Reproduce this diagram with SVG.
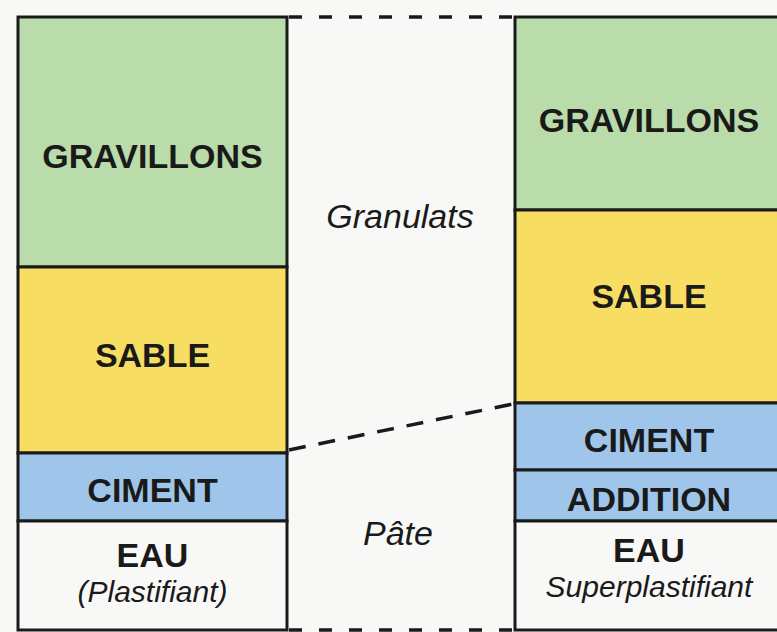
<svg xmlns="http://www.w3.org/2000/svg" width="777" height="632" viewBox="0 0 777 632">
<style>
.frame{stroke:#1a1a1a;stroke-width:3;}
.green{fill:#b9dcaa}.yellow{fill:#f8dd63}.blue{fill:#9fc6ea}.white{fill:#f8f8f6}
.b{font-family:"Liberation Sans",Arial,sans-serif;font-weight:bold;font-size:34px;fill:#1a1a1a;text-anchor:middle}
.i{font-family:"Liberation Sans",Arial,sans-serif;font-style:italic;font-size:30px;fill:#1a1a1a;text-anchor:middle}
.im{font-family:"Liberation Sans",Arial,sans-serif;font-style:italic;font-size:34px;fill:#1a1a1a;text-anchor:middle}
.dash{stroke:#1a1a1a;stroke-width:3.5;fill:none;stroke-dasharray:13 17}
</style>
<rect width="777" height="632" fill="#f8f8f6"/>
<g id="left-gravillons"><rect class="green frame" x="18" y="17" width="269" height="250"/><text class="b" x="152.5" y="168">GRAVILLONS</text></g>
<g id="left-sable"><rect class="yellow frame" x="18" y="267" width="269" height="186"/><text class="b" x="152.5" y="367">SABLE</text></g>
<g id="left-ciment"><rect class="blue frame" x="18" y="453" width="269" height="68"/><text class="b" x="152.5" y="502">CIMENT</text></g>
<g id="left-eau"><rect class="white frame" x="18" y="521" width="269" height="109"/><text class="b" x="152.5" y="567">EAU</text><text class="i" x="152.5" y="602">(Plastifiant)</text></g>
<g id="right-gravillons"><rect class="green frame" x="515" y="17" width="275" height="193"/><text class="b" x="649" y="132">GRAVILLONS</text></g>
<g id="right-sable"><rect class="yellow frame" x="515" y="210" width="275" height="193"/><text class="b" x="649" y="308">SABLE</text></g>
<g id="right-ciment"><rect class="blue frame" x="515" y="403" width="275" height="67"/><text class="b" x="649" y="452">CIMENT</text></g>
<g id="right-addition"><rect class="blue frame" x="515" y="470" width="275" height="51"/><text class="b" x="649" y="511">ADDITION</text></g>
<g id="right-eau"><rect class="white frame" x="515" y="521" width="275" height="109"/><text class="b" x="649" y="562">EAU</text><text class="i" x="649" y="597">Superplastifiant</text></g>
<g id="middle"><text class="im" x="400" y="228">Granulats</text><text class="im" x="398" y="545">Pâte</text></g>
<g id="connectors">
<line class="dash" x1="289" y1="17" x2="513" y2="17"/>
<line class="dash" x1="289" y1="630" x2="513" y2="630"/>
<line class="dash" x1="289" y1="450" x2="513" y2="404" style="stroke-dasharray:17 13"/>
</g>
</svg>
